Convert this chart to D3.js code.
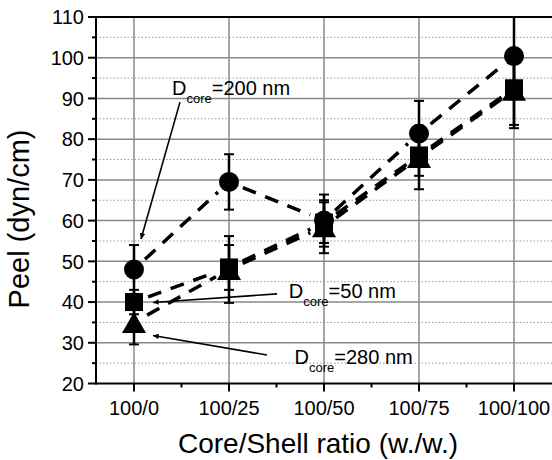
<!DOCTYPE html>
<html>
<head>
<meta charset="utf-8">
<script src="https://cdn.jsdelivr.net/npm/d3@7"></script>
<style>
  body { margin: 0; background: #fff; }
  svg { display: block; font-family: "Liberation Sans", Arial, sans-serif; }
</style>
</head>
<body>
<svg id="chart" width="552" height="460"></svg>
<script>
// Data
const categories = ["100/0", "100/25", "100/50", "100/75", "100/100"];
const peel200 = [48, 69.5, 60, 81.4, 100.4];
const err200 = [6, 6.8, 6.4, 8, 9.6];
const peel50 = [40, 48.5, 59.5, 76, 92.5];
const err50 = [3, 5.5, 5, 5, 9];
const peel280 = [35, 48, 58.5, 75.5, 92];
const err280 = [5.4, 8.2, 6.5, 7.8, 9.3];
const yTicks = [20, 30, 40, 50, 60, 70, 80, 90, 100, 110];
const yMinor = [25, 35, 45, 55, 65, 75, 85, 95, 105];

// annotations in data units (category index, peel value)
const notes = [
  { label: "=200 nm", tx: 0.4, ty: 90.8, from: [0.484, 89.1], to: [0.074, 55.5] },
  { label: "=50 nm", tx: 1.63, ty: 41.0, from: [1.505, 42.0], to: [0.2, 39.9] },
  { label: "=280 nm", tx: 1.69, ty: 24.8, from: [1.4, 27.0], to: [0.2, 31.8] }
];

const series = [
  { name: "200", values: peel200, errs: err200, symbol: "circle" },
  { name: "50", values: peel50, errs: err50, symbol: "square" },
  { name: "280", values: peel280, errs: err280, symbol: "triangle" }
];

const pLeft = 96, pRight = 552, pTop = 17, pBottom = 383.5;
const x = d3.scaleLinear().domain([-0.4, 4.4]).range([pLeft, pRight]);
const y = d3.scaleLinear().domain([20, 110]).range([pBottom, pTop]);

const svg = d3.select("#chart");

// arrowhead
svg.append("defs").append("marker")
  .attr("id", "arrow")
  .attr("viewBox", "0 0 10 10")
  .attr("refX", 10).attr("refY", 5)
  .attr("markerWidth", 5).attr("markerHeight", 3.5)
  .attr("orient", "auto")
  .append("path").attr("d", "M0,0L10,5L0,10z").attr("fill", "#000");

// grid
svg.append("g").selectAll("line")
  .data(yMinor).enter().append("line")
  .attr("x1", pLeft).attr("x2", pRight)
  .attr("y1", d => y(d)).attr("y2", d => y(d))
  .attr("stroke", "#999").attr("stroke-width", 1)
  .attr("stroke-dasharray", "1.5,2");

svg.append("g").selectAll("line")
  .data(yTicks.slice(1, -1)).enter().append("line")
  .attr("x1", pLeft).attr("x2", pRight)
  .attr("y1", d => y(d)).attr("y2", d => y(d))
  .attr("stroke", "#888").attr("stroke-width", 1.5);

svg.append("g").selectAll("line")
  .data(categories).enter().append("line")
  .attr("x1", (d, i) => x(i)).attr("x2", (d, i) => x(i))
  .attr("y1", pTop).attr("y2", pBottom)
  .attr("stroke", "#888").attr("stroke-width", 1.5);

// dashed connecting lines, stopping short of the symbols
const gap = 15;
series.forEach(s => {
  for (let i = 0; i < s.values.length - 1; i++) {
    const x1 = x(i), y1 = y(s.values[i]), x2 = x(i + 1), y2 = y(s.values[i + 1]);
    const len = Math.hypot(x2 - x1, y2 - y1);
    const ux = (x2 - x1) / len, uy = (y2 - y1) / len;
    svg.append("line")
      .attr("x1", x1 + ux * gap).attr("y1", y1 + uy * gap)
      .attr("x2", x2 - ux * gap).attr("y2", y2 - uy * gap)
      .attr("stroke", "#000").attr("stroke-width", 3.5)
      .attr("stroke-dasharray", "14,10");
  }
});

// error bars
series.forEach(s => {
  const g = svg.append("g").attr("stroke", "#000");
  s.values.forEach((v, i) => {
    const hi = Math.min(v + s.errs[i], 110), lo = v - s.errs[i];
    g.append("line").attr("x1", x(i)).attr("x2", x(i))
      .attr("y1", y(hi)).attr("y2", y(lo)).attr("stroke-width", 2.5);
    [hi, lo].forEach(e => {
      g.append("line").attr("x1", x(i) - 5).attr("x2", x(i) + 5)
        .attr("y1", y(e)).attr("y2", y(e)).attr("stroke-width", 2);
    });
  });
});

// symbols
series.forEach(s => {
  const g = svg.append("g").attr("fill", "#000");
  s.values.forEach((v, i) => {
    const cx = x(i), cy = y(v);
    if (s.symbol === "circle") {
      g.append("circle").attr("cx", cx).attr("cy", cy).attr("r", 10);
    } else if (s.symbol === "square") {
      g.append("rect").attr("x", cx - 9).attr("y", cy - 9).attr("width", 18).attr("height", 18);
    } else {
      g.append("path").attr("d", `M${cx},${cy - 10.5}L${cx + 12},${cy + 10.5}L${cx - 12},${cy + 10.5}Z`);
    }
  });
});

// annotations
notes.forEach(n => {
  svg.append("line")
    .attr("x1", x(n.from[0])).attr("y1", y(n.from[1]))
    .attr("x2", x(n.to[0])).attr("y2", y(n.to[1]))
    .attr("stroke", "#000").attr("stroke-width", 1.6)
    .attr("marker-end", "url(#arrow)");
  const t = svg.append("text")
    .attr("x", x(n.tx)).attr("y", y(n.ty))
    .attr("font-size", 20).attr("fill", "#000");
  t.append("tspan").text("D");
  t.append("tspan").attr("dy", 8).attr("font-size", 13).text("core");
  t.append("tspan").attr("dy", -8).text(n.label);
});

// axes frame
svg.append("line").attr("x1", pLeft).attr("x2", pRight).attr("y1", pTop).attr("y2", pTop)
  .attr("stroke", "#000").attr("stroke-width", 2);
svg.append("line").attr("x1", pLeft).attr("x2", pRight).attr("y1", pBottom).attr("y2", pBottom)
  .attr("stroke", "#000").attr("stroke-width", 2);
svg.append("line").attr("x1", pLeft).attr("x2", pLeft).attr("y1", pTop - 1).attr("y2", pBottom + 1)
  .attr("stroke", "#000").attr("stroke-width", 2);

// y ticks
const yAxis = svg.append("g");
yAxis.selectAll("line.maj").data(yTicks).enter().append("line")
  .attr("x1", pLeft - 8).attr("x2", pLeft)
  .attr("y1", d => y(d)).attr("y2", d => y(d))
  .attr("stroke", "#000").attr("stroke-width", 2);
yAxis.selectAll("line.min").data(yMinor).enter().append("line")
  .attr("x1", pLeft - 4).attr("x2", pLeft)
  .attr("y1", d => y(d)).attr("y2", d => y(d))
  .attr("stroke", "#000").attr("stroke-width", 2);
yAxis.selectAll("text").data(yTicks).enter().append("text")
  .attr("x", pLeft - 12).attr("y", d => y(d)).attr("dy", "0.36em")
  .attr("text-anchor", "end").attr("font-size", 20).text(d => d);

// x ticks
const xAxis = svg.append("g");
xAxis.selectAll("line.maj").data(categories).enter().append("line")
  .attr("x1", (d, i) => x(i)).attr("x2", (d, i) => x(i))
  .attr("y1", pBottom).attr("y2", pBottom + 8)
  .attr("stroke", "#000").attr("stroke-width", 2);
xAxis.selectAll("line.min").data(categories.slice(1)).enter().append("line")
  .attr("x1", (d, i) => x(i + 0.5)).attr("x2", (d, i) => x(i + 0.5))
  .attr("y1", pBottom).attr("y2", pBottom + 4)
  .attr("stroke", "#000").attr("stroke-width", 2);
xAxis.selectAll("text").data(categories).enter().append("text")
  .attr("x", (d, i) => x(i)).attr("y", 415)
  .attr("text-anchor", "middle").attr("font-size", 20).text(d => d);

// titles
svg.append("text").attr("x", 318).attr("y", 453)
  .attr("text-anchor", "middle").attr("font-size", 28)
  .text("Core/Shell ratio (w./w.)");
svg.append("text")
  .attr("transform", "translate(29,219) rotate(-90)")
  .attr("text-anchor", "middle").attr("font-size", 29)
  .text("Peel (dyn/cm)");
</script>
</body>
</html>
